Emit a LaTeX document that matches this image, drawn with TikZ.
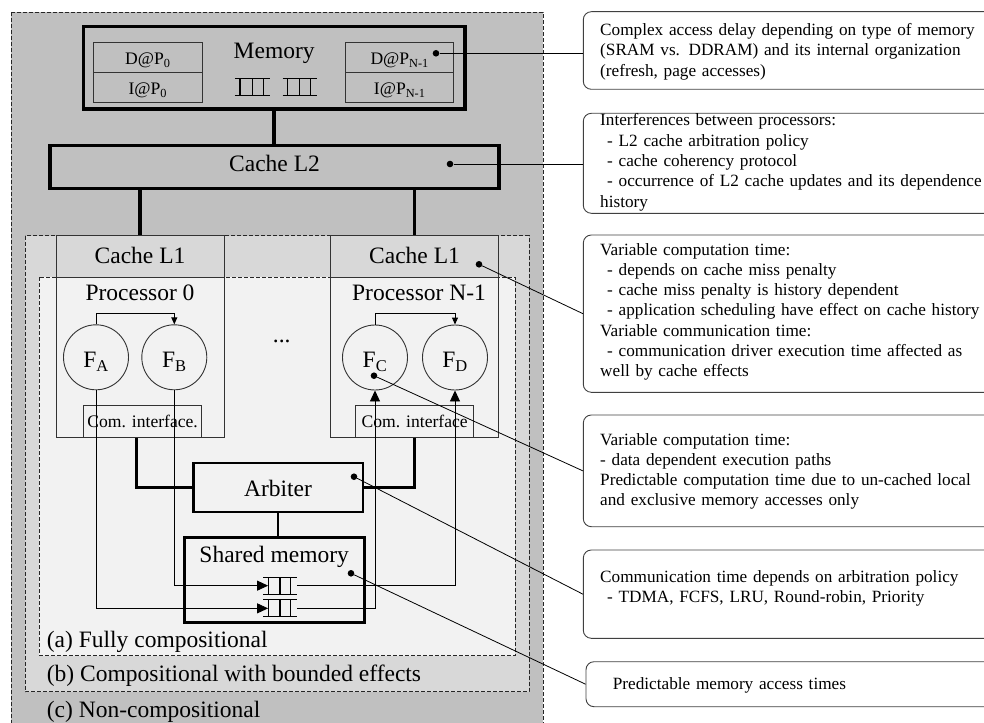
\documentclass[tikz,border=0pt]{standalone}
\usepackage{fontspec}
\setmainfont{Liberation Serif}
\usetikzlibrary{arrows.meta,calc}

\definecolor{regionC}{RGB}{192,192,192}
\definecolor{regionB}{RGB}{216,216,216}
\definecolor{regionA}{RGB}{242,242,242}

\newcommand\bigtext{\fontsize{23.5}{26}\selectfont}
\newcommand\smalltext{\fontsize{17.6}{20.3}\selectfont}
\newcommand\notetext{\fontsize{17.2}{20.3}\selectfont}

% top and bottom rails of a FIFO symbol plus its three dividers
\newcommand\queuelines[1]{%
  \draw[queue] (#1.north west) -- (#1.north east)
               (#1.south west) -- (#1.south east)
    ($(#1.north west)!0.15!(#1.north east)$) -- ($(#1.south west)!0.15!(#1.south east)$)
    ($(#1.north west)!0.50!(#1.north east)$) -- ($(#1.south west)!0.50!(#1.south east)$)
    ($(#1.north west)!0.82!(#1.north east)$) -- ($(#1.south west)!0.82!(#1.south east)$);}

\begin{document}
\begin{tikzpicture}[x=1pt,y=-1pt,
  region/.style={draw=black!85,dash pattern=on 4pt off 2pt,line width=0.9pt},
  heavybox/.style={draw=black,line width=3.4pt,fill=regionC,inner sep=0pt},
  plainbox/.style={draw=black!80,line width=0.9pt,inner sep=0pt},
  slotbox/.style={plainbox,fill=regionC,minimum width=108.2pt,minimum height=30pt,
                  font=\smalltext,text height=15.4pt,text depth=0pt},
  cachebox/.style={plainbox,fill=regionB,minimum width=168pt,minimum height=41.6pt,
                  font=\bigtext,text height=13pt,text depth=0pt},
  procbox/.style={plainbox,fill=regionA,minimum width=168pt,minimum height=160pt},
  fcircle/.style={circle,plainbox,fill=regionA,minimum size=65pt,
                  font=\bigtext,text height=20pt,text depth=0pt},
  combox/.style={plainbox,fill=regionA,minimum width=118.4pt,minimum height=31.6pt,
                  font=\smalltext,text height=11pt,text depth=0pt},
  medbox/.style={draw=black,line width=2.4pt,fill=regionA,inner sep=0pt},
  heavyline/.style={draw=black,line width=3.4pt},
  medline/.style={draw=black,line width=2.2pt},
  thinline/.style={draw=black,line width=0.9pt},
  bigarrow/.style={thinline,-{Triangle[length=11pt,width=10pt]}},
  smallarrow/.style={thinline,-{Triangle[length=7pt,width=6pt]}},
  queue/.style={draw=black,line width=1.1pt},
  qnode/.style={inner sep=0pt,draw=none},
  dot/.style={circle,fill=black,inner sep=0pt,minimum size=6.6pt},
  callbox/.style={draw=black!75,line width=0.9pt,rounded corners=8pt,inner sep=0pt},
  calltext/.style={font=\notetext,text width=420pt,align=left,inner sep=0pt,anchor=base west},
  biglabel/.style={font=\bigtext,inner sep=0pt,anchor=base},
  regionlabel/.style={font=\bigtext,inner sep=0pt,anchor=base west},
  callline/.style={draw=black,line width=0.8pt}
]
\useasboundingbox (0,0) rectangle (984,722);

% ---- nested compositionality regions ----
\draw[region,fill=regionC] (11,12) rectangle (543,730);
\draw[region,fill=regionB] (25,235.7) rectangle (529,691.7);
\draw[region,fill=regionA] (39.3,277.3) rectangle (515,655.7);

\node[regionlabel] (labA) at (46.7,647) {(a) Fully compositional};
\node[regionlabel] (labB) at (46.7,681.5) {(b) Compositional with bounded effects};
\node[regionlabel] (labC) at (46.7,717) {(c) Non-compositional};

% ---- main memory ----
\node[heavybox,minimum width=381.7pt,minimum height=82.3pt] (Mem) at (274.15,67.85) {};
\node[biglabel] (memlabel) at (274.2,58.3) {Memory};
\node[slotbox] (DP0) at (147.85,57.3) {D@P\textsubscript{0}};
\node[slotbox] (IP0) at (147.85,87.3) {I@P\textsubscript{0}};
\node[slotbox] (DPN) at (399.7,57.3) {D@P\textsubscript{N-1}};
\node[slotbox] (IPN) at (399.7,87.3) {I@P\textsubscript{N-1}};
\node[qnode,minimum width=34.3pt,minimum height=17.4pt] (qM1) at (252.15,87) {};
\node[qnode,minimum width=34pt,minimum height=17.4pt] (qM2) at (299.7,87) {};
\queuelines{qM1}
\queuelines{qM2}

% ---- shared L2 cache ----
\node[heavybox,minimum width=449pt,minimum height=42.6pt,
      font=\bigtext,text height=9.2pt,text depth=0pt] (L2) at (274.5,167) {Cache L2};
\draw[heavyline] (Mem.south) -- (Mem.south |- L2.north);

% ---- private L1 caches and processors ----
\node[cachebox] (L1a) at (140,256.5) {Cache L1};
\node[cachebox,minimum width=167.6pt] (L1b) at (414.5,256.5) {Cache L1};
\draw[heavyline] (L1a.north |- L2.south) -- (L1a.north);
\draw[heavyline] (L1b.north |- L2.south) -- (L1b.north);

\node[procbox] (P0) at (140,357.3) {};
\node[procbox,minimum width=167.6pt] (PN) at (414.5,357.3) {};
\node[biglabel] (P0label) at (140,300.6) {Processor 0};
\node[biglabel] (PNlabel) at (419,300.6) {Processor N-1};
\node[biglabel] (dots) at (281.7,342) {...};

\node[fcircle] (FA) at (96,357.3) {F\textsubscript{A}};
\node[fcircle] (FB) at (174.3,357.3) {F\textsubscript{B}};
\node[fcircle] (FC) at (375,357.5) {F\textsubscript{C}};
\node[fcircle] (FD) at (455,357.5) {F\textsubscript{D}};
\draw[smallarrow] (FA.north) -- ++(0,-10.8) -| (FB.north);
\draw[smallarrow] (FC.north) -- ++(0,-10.8) -| (FD.north);

\node[combox] (ComL) at (142.65,421.5) {Com. interface.};
\node[combox,minimum width=118pt] (ComR) at (414.7,421.5) {Com. interface};

% ---- arbiter and shared memory ----
\node[medbox,minimum width=169.4pt,minimum height=49.3pt,
      font=\bigtext,text height=17.3pt,text depth=0pt] (Arb) at (278,487.35) {Arbiter};
\node[medbox,minimum width=180pt,minimum height=85pt] (SM) at (274.3,579.8) {};
\node[biglabel] (SMlabel) at (274.2,562.3) {Shared memory};
\draw[medline] (Arb.south) -- (Arb.south |- SM.north);

\draw[heavyline] ($(ComL.south)+(-6,0)$) |- (Arb.west);
\draw[heavyline] (ComR.south) |- (Arb.east);

% FIFOs inside the shared memory
\node[qnode,minimum width=33.4pt,minimum height=16.7pt] (qU) at (280,585.65) {};
\node[qnode,minimum width=33.4pt,minimum height=16.7pt] (qL) at (280,608.35) {};
\coordinate (qUin) at ($(qU.west)+(5,0)$);
\coordinate (qLin) at ($(qL.west)+(5,0)$);

\draw[bigarrow] (FB.south) |- (qUin);
\draw[bigarrow] (FA.south) |- (qLin);
\draw[bigarrow] (qU.east) -| (FD.south);
\draw[bigarrow] (qL.east) -| (FC.south);
\queuelines{qU}
\queuelines{qL}

% ---- annotation call-outs ----
\node[dot] (d1) at (436,53.3) {};
\node[dot] (d2) at (450,164) {};
\node[dot] (d3) at (479,264.3) {};
\node[dot] (d4) at (374,375.7) {};
\node[dot] (d5) at (354,476.7) {};
\node[dot] (d6) at (351,573.3) {};

\node[callbox,minimum width=416.7pt,minimum height=77.6pt] (co1) at (791.65,50.5) {};
\node[callbox,minimum width=416.7pt,minimum height=100pt] (co2) at (791.65,163.3) {};
\node[callbox,minimum width=416.7pt,minimum height=157.3pt] (co3) at (791.65,313.65) {};
\node[callbox,minimum width=416.7pt,minimum height=111.7pt] (co4) at (791.65,470.85) {};
\node[callbox,minimum width=416.7pt,minimum height=88.3pt] (co5) at (791.65,594.15) {};
\node[callbox,minimum width=414pt,minimum height=45pt] (co6) at (793,684.2) {};

\draw[callline] (d1) -- (co1.west |- d1);
\draw[callline] (d2) -- (co2.west |- d2);
\draw[callline] (d3) -- (co3.west);
\draw[callline] (d4) -- (co4.west);
\draw[callline] (d5) -- (co5.west);
\draw[callline] (d6) -- (co6.west);

\node[calltext] (t1) at (600,35.5) {Complex access delay depending on type of memory\\
(SRAM vs. DDRAM) and its internal organization\\
(refresh, page accesses)};
\node[calltext] (t2) at (600,126) {Interferences between processors:\\
\hspace*{7pt}- L2 cache arbitration policy\\
\hspace*{7pt}- cache coherency protocol\\
\hspace*{7pt}- occurrence of L2 cache updates and its dependence\\
history};
\node[calltext] (t3) at (600,255) {Variable computation time:\\
\hspace*{7pt}- depends on cache miss penalty\\
\hspace*{7pt}- cache miss penalty is history dependent\\
\hspace*{7pt}- application scheduling have effect on cache history\\
Variable communication time:\\
\hspace*{7pt}- communication driver execution time affected as\\
well by cache effects};
\node[calltext] (t4) at (600,445) {Variable computation time:\\
- data dependent execution paths\\
Predictable computation time due to un-cached local\\
and exclusive memory accesses only};
\node[calltext] (t5) at (600,582) {Communication time depends on arbitration policy\\
\hspace*{7pt}- TDMA, FCFS, LRU, Round-robin, Priority};
\node[calltext] (t6) at (612.7,689) {Predictable memory access times};
\end{tikzpicture}
\end{document}
